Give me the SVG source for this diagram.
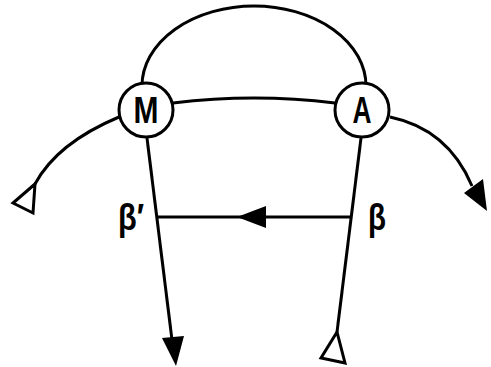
<svg xmlns="http://www.w3.org/2000/svg" width="491" height="367" viewBox="0 0 491 367">
<style>
.ln{fill:none;stroke:#000;stroke-width:3}
.nd{fill:#fff;stroke:#000;stroke-width:3}
.op{fill:#fff;stroke:#000;stroke-width:3;stroke-linejoin:miter}
.fl{fill:#000;stroke:none}
.t{font-family:"Liberation Sans",Arial,sans-serif;font-size:36px;font-weight:bold;fill:#000;text-anchor:middle}
</style>
<rect width="491" height="367" fill="#fff"/>
<g id="connectors">
<path class="ln" d="M142,86 A112,80 0 0 1 366,86"/>
<path class="ln" d="M173,103 Q254,93 335,103"/>
<path class="ln" d="M119,117 Q57,143 35,184"/>
<polygon class="op" points="35,184 13,203 33,213"/>
<path class="ln" d="M390,117 Q448,129 472,186"/>
<polygon class="fl" points="487,211 464,193 483,179"/>
<path class="ln" d="M147,138 L172,340"/>
<polygon class="fl" points="176,366 162,338 184,336"/>
<path class="ln" d="M158,217 L351,217"/>
<polygon class="fl" points="237,217 266,206 266,228"/>
<path class="ln" d="M361,138 L337,332"/>
<polygon class="op" points="337,332 321,358 345,363"/>
</g>
<g id="node-M">
<circle class="nd" cx="146" cy="110" r="27"/>
<text class="t" x="146" y="122.5" textLength="25" lengthAdjust="spacingAndGlyphs">M</text>
</g>
<g id="node-A">
<circle class="nd" cx="362" cy="110" r="27"/>
<text class="t" x="362" y="122.5" textLength="19" lengthAdjust="spacingAndGlyphs">A</text>
</g>
<g id="label-beta-prime">
<text class="t" x="131" y="230" textLength="26" lengthAdjust="spacingAndGlyphs">β′</text>
</g>
<g id="label-beta">
<text class="t" x="377" y="230" textLength="18" lengthAdjust="spacingAndGlyphs">β</text>
</g>
</svg>
